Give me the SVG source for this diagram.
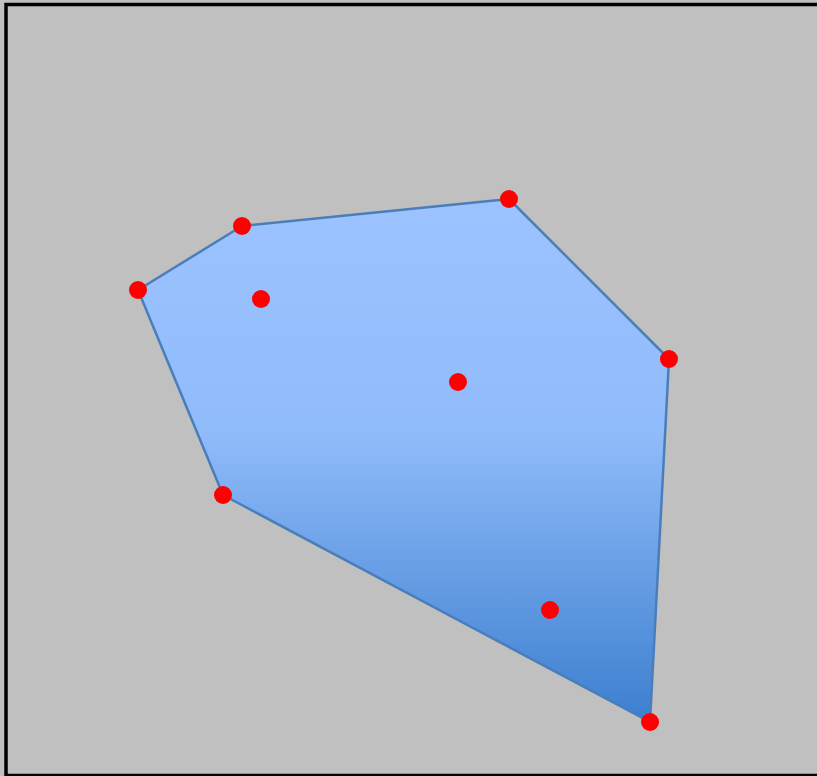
<svg xmlns="http://www.w3.org/2000/svg" width="817" height="776" viewBox="0 0 817 776">
<defs>
<linearGradient id="g" x1="0" y1="0" x2="0" y2="1">
<stop offset="0" stop-color="#9cc3ff"/>
<stop offset="0.45" stop-color="#90bbfa"/>
<stop offset="1" stop-color="#3c7fcf"/>
</linearGradient>
<style>
.pt{fill:#ff0000}
.hull{fill:url(#g);stroke:#4a7ebb;stroke-width:2.5;stroke-linejoin:round}
</style>
</defs>
<rect x="0" y="0" width="817" height="776" fill="#c0c0c0"/>
<rect x="6" y="4.5" width="900" height="771" fill="none" stroke="#000" stroke-width="3.5"/>
<g id="hull"><polygon class="hull" points="242,226 509,199 669,359 650,722 223,495 138,290"/></g>
<g id="points">
<circle id="p1" class="pt" cx="242" cy="226" r="9"/>
<circle id="p2" class="pt" cx="509" cy="199" r="9"/>
<circle id="p3" class="pt" cx="669" cy="359" r="9"/>
<circle id="p4" class="pt" cx="650" cy="722" r="9"/>
<circle id="p5" class="pt" cx="223" cy="495" r="9"/>
<circle id="p6" class="pt" cx="138" cy="290" r="9"/>
<circle id="p7" class="pt" cx="261" cy="299" r="9"/>
<circle id="p8" class="pt" cx="458" cy="382" r="9"/>
<circle id="p9" class="pt" cx="550" cy="610" r="9"/>
</g>
</svg>
